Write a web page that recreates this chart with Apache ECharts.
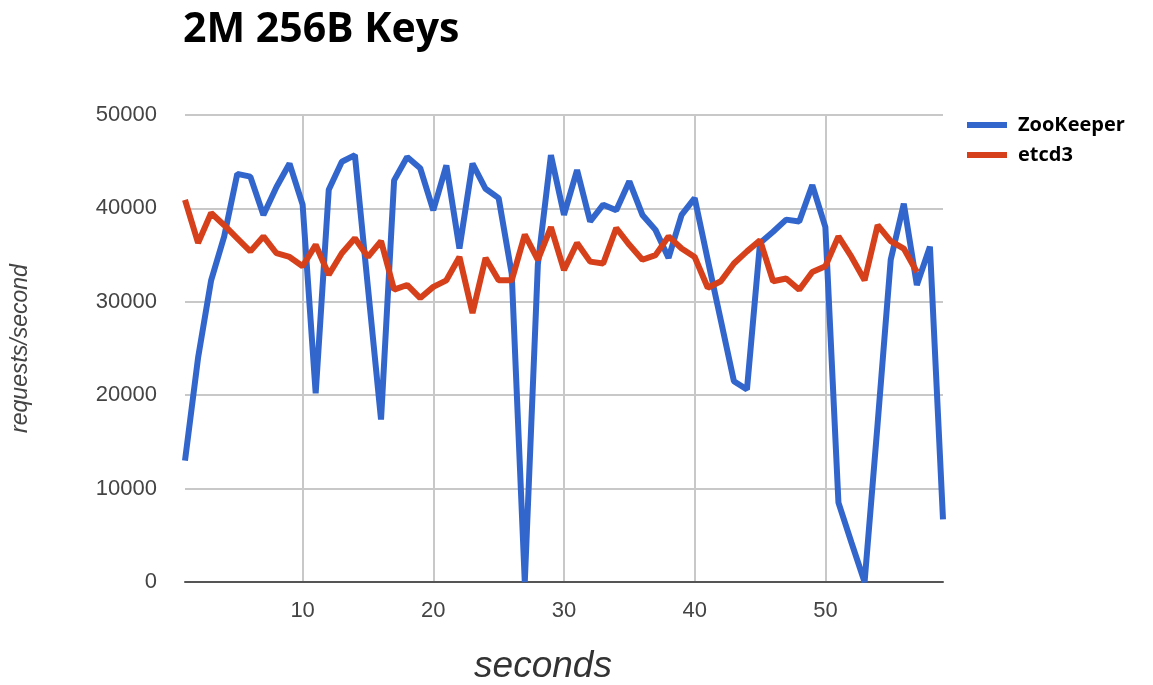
<!DOCTYPE html>
<html>
<head>
<meta charset="utf-8">
<script src="https://cdn.jsdelivr.net/npm/echarts@6/dist/echarts.min.js"></script>
<style>
html,body{margin:0;padding:0;background:#fff;}
#chart{width:1153px;height:685px;}
</style>
</head>
<body>
<div id="chart"></div>
<script>
const seconds = [];
for (let s = 1; s <= 59; s++) seconds.push(s);

const zookeeper = [
  13000, 24000, 32300, 37000, 43700, 43400, 39300, 42300, 44800, 40400,
  20200, 42000, 45000, 45700, 31500, 17400, 43000, 45500, 44300, 39800,
  44600, 35700, 44800, 42100, 41100, 33000, 0, 34000, 45700, 39300,
  44100, 38600, 40400, 39800, 42900, 39300, 37700, 34700, 39300, 41100,
  34500, 28000, 21500, 20600, 36300, 37500, 38800, 38600, 42500, 38000,
  8500, 4200, 0, 17000, 34500, 40500, 31800, 35900, 6700
];
const etcd3 = [
  40900, 36300, 39500, 38200, 36800, 35400, 37000, 35200, 34800, 33800,
  36100, 32900, 35200, 36800, 34800, 36500, 31300, 31800, 30400, 31600,
  32300, 34800, 28800, 34700, 32300, 32300, 37200, 34500, 38000, 33400,
  36300, 34300, 34100, 37900, 36100, 34500, 35000, 37000, 35700, 34800,
  31500, 32200, 34100, 35400, 36600, 32200, 32500, 31300, 33200, 33800,
  37000, 34800, 32300, 38200, 36500, 35700, 33200
];
const xTicks = [10, 20, 30, 40, 50];
const seriesNames = ['ZooKeeper', 'etcd3'];

const chart = echarts.init(document.getElementById('chart'));
chart.setOption({
  animation: false,
  backgroundColor: '#fff',
  title: {
    text: '2M 256B Keys',
    left: 178, top: 5,
    textStyle: { fontFamily: 'Open Sans', fontWeight: 'bold', fontSize: 41, color: '#000' }
  },
  legend: {
    orient: 'vertical',
    left: 962, top: 110,
    itemWidth: 40, itemHeight: 6, itemGap: 10,
    icon: 'rect',
    textStyle: { fontFamily: 'Open Sans', fontWeight: 'bold', fontSize: 20, color: '#000', padding: [0,0,0,6] },
    data: seriesNames
  },
  grid: { left: 185, right: 210, top: 115, bottom: 103, outerBoundsMode: 'none', containLabel: false },
  xAxis: {
    type: 'value', min: 1, max: 59,
    name: 'seconds', nameLocation: 'middle', nameGap: 66,
    nameTextStyle: { fontFamily: 'Liberation Sans', fontStyle: 'italic', fontSize: 37, color: '#333', padding: [0, 42, 0, 0] },
    axisLine: { show: true, lineStyle: { color: '#555', width: 2 } },
    axisTick: { show: false, customValues: xTicks },
    axisLabel: { customValues: xTicks, fontFamily: 'Liberation Sans', fontSize: 22, color: '#444', margin: 18 },
    splitLine: { show: true, lineStyle: { color: '#c8c8c8', width: 2 } }
  },
  yAxis: {
    type: 'value', min: 0, max: 50000, interval: 10000,
    name: 'requests/second', nameLocation: 'middle', nameGap: 153,
    nameTextStyle: { fontFamily: 'Liberation Sans', fontStyle: 'italic', fontSize: 23, color: '#444' },
    axisLine: { show: false },
    axisTick: { show: false },
    axisLabel: { fontFamily: 'Liberation Sans', fontSize: 22, color: '#444', margin: 28, formatter: v => String(v) },
    splitLine: { show: true, lineStyle: { color: '#c8c8c8', width: 2 } }
  },
  series: [
    {
      name: seriesNames[0], type: 'line', showSymbol: false,
      data: seconds.map((s, i) => [s, zookeeper[i]]),
      lineStyle: { color: '#3366cc', width: 6 }, itemStyle: { color: '#3366cc' }
    },
    {
      name: seriesNames[1], type: 'line', showSymbol: false,
      data: etcd3.map((v, i) => [seconds[i], v]),
      lineStyle: { color: '#d6401a', width: 6 }, itemStyle: { color: '#d6401a' }
    }
  ]
});
</script>
</body>
</html>
